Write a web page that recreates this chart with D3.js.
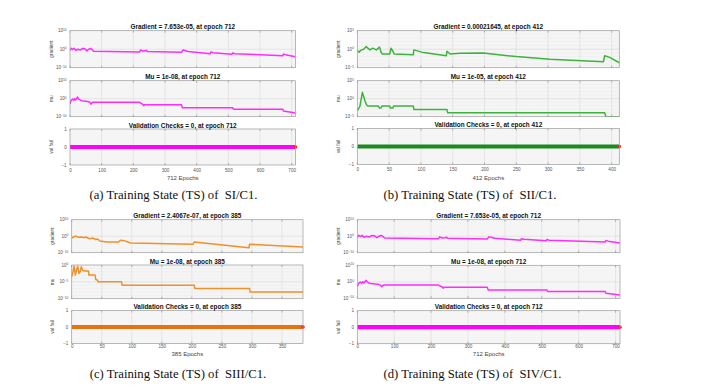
<!DOCTYPE html>
<html>
<head>
<meta charset="utf-8">
<script src="https://cdn.jsdelivr.net/npm/d3@7"></script>
<style>
  body { margin: 0; background: #fff; }
  svg { display: block; font-family: "Liberation Sans", Arial, sans-serif; }
</style>
</head>
<body>
<div id="chart"></div>
<script>
// ---- data ----
// SI/C1 (a) and SIV/C1 (d) show the same training run, 712 epochs
var gradEpA = [0,4,8,13,19,25,32,40,47,53,59,65,69,74,220,223,231,237,242,244,352,357,363,373,443,445,452,512,514,520,672,674,680,712];
var gradA   = [0.2,3.2,0.63,3.2,0.2,1,0.32,2.5,1.6,0.13,1,2.5,1,0.08,0.032,0.4,0.08,0.13,0.25,0.05,0.02,0.4,0.2,0.063,0.0032,0.032,0.0126,0.002,0.01,0.004,3.2e-4,0.0025,0.001,7.653e-5];
var muEpA   = [0,3,8,12,15,18,21,24,27,32,37,55,63,66,71,220,231,233,235,352,355,514,516,672,674,712];
var muA     = [1e-3,0.08,0.63,0.13,1,0.2,1.6,8,0.63,0.2,0.08,0.032,0.01,1e-3,0.01,0.01,5e-4,1.3e-4,5e-4,5e-4,1e-5,1e-5,1.3e-6,1.3e-6,1.3e-7,1e-8];
var valEpA  = [0,712];
var valA    = [0,0];

// SII/C1 (b), 412 epochs
var gradEpB = [0,3,5,7,10,14,16,20,24,30,35,37,39,51,53,56,58,88,89,104,140,141,146,161,198,250,303,387,389,397,412];
var gradB   = [0.43,0.15,0.43,0.65,1,5.5,2.3,0.65,1.9,0.65,3.6,0.22,0.05,0.05,1.9,0.28,0.05,0.032,0.65,0.12,0.017,0.28,0.05,0.08,0.1,0.01,0.002,4e-4,0.017,0.0063,2.1645e-4];
var muEpB   = [0,4,8,12,14,16,33,35,37,39,51,52,56,57,88,89,141,142,389,391,412];
var muB     = [5e-4,6e-3,58,0.28,0.03,0.01,0.01,2.5e-3,2.5e-3,0.01,0.01,2.5e-3,2.5e-3,0.01,0.01,1e-3,1e-3,1.3e-4,1.3e-4,1e-5,1e-5];
var valEpB  = [0,412];
var valB    = [0,0];

// SIII/C1 (c), 385 epochs
var gradEpC = [0,3,7,11,17,20,24,29,36,40,43,47,58,78,81,87,98,202,204,295,296,385];
var gradC   = [0.08,0.32,1.26,0.2,0.32,0.13,0.32,0.032,0.08,0.008,0.02,1.3e-3,3.2e-4,3.2e-4,3.2e-3,2e-3,8e-5,1.3e-5,3.2e-4,1e-7,1.3e-5,2.4067e-7];
var muEpC   = [0,2,4,6,8,10,12,14,16,18,21,28,28.5,39,40,43,44,83,84,204,205,296,297,385];
var muC     = [3.2e-4,0.01,0.5,1e-3,0.032,0.5,3.2e-3,0.01,0.32,0.032,0.016,0.016,1e-3,1e-3,5e-5,3.2e-5,1e-5,1e-5,1e-6,1e-6,1e-7,1e-7,1e-8,1e-8];
var valEpC  = [0,385];
var valC    = [0,0];

var titlesA = ["Gradient = 7.653e-05, at epoch 712", "Mu = 1e-08, at epoch 712", "Validation Checks = 0, at epoch 712"];
var titlesB = ["Gradient = 0.00021645, at epoch 412", "Mu = 1e-05, at epoch 412", "Validation Checks = 0, at epoch 412"];
var titlesC = ["Gradient = 2.4067e-07, at epoch 385", "Mu = 1e-08, at epoch 385", "Validation Checks = 0, at epoch 385"];
var rowLabels = ["gradient", "mu", "val fail"];
var captions = ["(a) Training State (TS) of  SI/C1.", "(b) Training State (TS) of  SII/C1.",
                "(c) Training State (TS) of  SIII/C1.", "(d) Training State (TS) of  SIV/C1."];
var epochLabels = ["712 Epochs", "412 Epochs", "385 Epochs", "712 Epochs"];

// ---- layout ----
var panels = [
  {epochs:712, step:100, x0:70, x1:295.5, rows:[[30.7,67.7],[80.7,116.7],[129,165]], tickDy:7.2, labDy:15,
   cap:[173.5,198.5], color:"#ff2bff", valColor:"#ff00ff",
   grad:[gradEpA,gradA], mu:[muEpA,muA], val:[valEpA,valA], titles:titlesA, xlab:epochLabels[0], caption:captions[0],
   gDom:[1e-10,1e10], mDom:[1e-10,1e10]},
  {epochs:412, step:50, x0:357.3, x1:619.3, rows:[[30.7,67.7],[80.7,116.7],[128.5,164.5]], tickDy:7.2, labDy:15,
   cap:[470,198.5], color:"#3cb43c", valColor:"#1d8a1d",
   grad:[gradEpB,gradB], mu:[muEpB,muB], val:[valEpB,valB], titles:titlesB, xlab:epochLabels[1], caption:captions[1],
   gDom:[1e-5,1e5], mDom:[1e-5,1e5]},
  {epochs:385, step:50, x0:71.7, x1:303, rows:[[219.7,252.7],[265,298.7],[310.5,343.5]], tickDy:5.3, labDy:12.7,
   cap:[178,377.7], color:"#f0902a", valColor:"#e6730f",
   grad:[gradEpC,gradC], mu:[muEpC,muC], val:[valEpC,valC], titles:titlesC, xlab:epochLabels[2], caption:captions[2],
   gDom:[1e-10,1e10], mDom:[1e-10,1]},
  {epochs:712, step:100, x0:357.3, x1:620, rows:[[219.7,252.7],[265.3,298.3],[310.7,343.7]], tickDy:5.3, labDy:12.7,
   cap:[472.5,377.7], color:"#ff2bff", valColor:"#ff00ff",
   grad:[gradEpA,gradA], mu:[muEpA,muA], val:[valEpA,valA], titles:titlesA, xlab:epochLabels[3], caption:captions[3],
   gDom:[1e-10,1e10], mDom:[1e-10,1e10]}
];

var svg = d3.select("#chart").append("svg").attr("width", 712).attr("height", 390);
var clipId = 0;

function drawRow(p, r, kind, series, title, label, last) {
  var top = p.rows[r][0], bottom = p.rows[r][1];
  var x = d3.scaleLinear().domain([0, p.epochs]).range([p.x0, p.x1]);
  var y, yticks, dom;
  if (kind == "val") {
    y = d3.scaleLinear().domain([-1, 1]).range([bottom, top]);
    yticks = [-1, 0, 1];
  } else {
    dom = kind == "grad" ? p.gDom : p.mDom;
    y = d3.scaleLog().domain(dom).range([bottom, top]);
    var lo = Math.log10(dom[0]), hi = Math.log10(dom[1]);
    yticks = [dom[0], Math.pow(10, (lo + hi) / 2), dom[1]];
  }
  var g = svg.append("g");

  g.append("rect").attr("x", p.x0).attr("y", top)
    .attr("width", p.x1 - p.x0).attr("height", bottom - top).attr("fill", "#f5f5f5");

  // minor decade grid on log axes when there is room
  if (kind != "val") {
    var lo2 = Math.log10(dom[0]), hi2 = Math.log10(dom[1]);
    if ((bottom - top) / (hi2 - lo2) > 3) {
      for (var e = lo2 + 1; e < hi2; e++) {
        g.append("line").attr("x1", p.x0).attr("x2", p.x1)
          .attr("y1", y(Math.pow(10, e))).attr("y2", y(Math.pow(10, e)))
          .attr("stroke", "#e2e2e2").attr("stroke-width", 0.5).attr("stroke-dasharray", "1,1");
      }
    }
  }

  var xticks = d3.range(0, p.epochs + 1, p.step);
  // grid
  g.selectAll(".vg").data(xticks.slice(1)).enter().append("line")
    .attr("x1", function(d){ return x(d); }).attr("x2", function(d){ return x(d); })
    .attr("y1", top).attr("y2", bottom).attr("stroke", "#dadada").attr("stroke-width", 0.6);
  g.selectAll(".hg").data(yticks.slice(1, 2)).enter().append("line")
    .attr("x1", p.x0).attr("x2", p.x1)
    .attr("y1", function(d){ return y(d); }).attr("y2", function(d){ return y(d); })
    .attr("stroke", "#dadada").attr("stroke-width", 0.6);

  // tick marks inside, top and bottom
  xticks.forEach(function(d) {
    g.append("line").attr("x1", x(d)).attr("x2", x(d)).attr("y1", bottom).attr("y2", bottom - 2)
      .attr("stroke", "#888").attr("stroke-width", 0.6);
    g.append("line").attr("x1", x(d)).attr("x2", x(d)).attr("y1", top).attr("y2", top + 2)
      .attr("stroke", "#888").attr("stroke-width", 0.6);
  });

  // data
  clipId++;
  g.append("clipPath").attr("id", "clip" + clipId).append("rect")
    .attr("x", p.x0).attr("y", top).attr("width", p.x1 - p.x0).attr("height", bottom - top);
  var pts = series[0].map(function(ep, i){ return [ep, series[1][i]]; });
  var line = d3.line().x(function(d){ return x(d[0]); }).y(function(d){ return y(d[1]); });
  g.append("path").datum(pts).attr("clip-path", "url(#clip" + clipId + ")")
    .attr("fill", "none")
    .attr("stroke", kind == "val" ? p.valColor : p.color)
    .attr("stroke-width", kind == "val" ? 4.2 : 1.5)
    .attr("stroke-linejoin", "round")
    .attr("d", line);
  if (kind == "val") {
    g.append("circle").attr("cx", x(p.epochs)).attr("cy", y(0)).attr("r", 1.8).attr("fill", "#ff2020");
  }

  // box
  g.append("rect").attr("x", p.x0).attr("y", top)
    .attr("width", p.x1 - p.x0).attr("height", bottom - top)
    .attr("fill", "none").attr("stroke", "#9a9a9a").attr("stroke-width", 0.7);

  // y tick labels
  yticks.forEach(function(d) {
    var t = g.append("text").attr("x", p.x0 - 3.3).attr("y", y(d) + 1.6)
      .attr("text-anchor", "end").attr("fill", "#555").attr("font-size", 4.6);
    if (kind == "val") {
      t.text(d == -1 ? "\u22121" : d);
    } else {
      var ex = Math.round(Math.log10(d));
      t.append("tspan").text("10");
      t.append("tspan").attr("dy", -1.8).attr("font-size", 3.3).text(ex < 0 ? "\u2212" + (-ex) : ex);
    }
  });

  // y label
  g.append("text").attr("transform", "translate(" + (p.x0 - 17.5) + "," + ((top + bottom) / 2) + ") rotate(-90)")
    .attr("text-anchor", "middle").attr("fill", "#444").attr("font-size", 4.8).text(label);

  // title
  svg.append("text").attr("x", (p.x0 + p.x1) / 2).attr("y", top - 1.3)
    .attr("text-anchor", "middle").attr("font-weight", "bold").attr("font-size", 6.4)
    .attr("fill", "#111").text(title);

  if (last) {
    var ax = svg.append("g").attr("transform", "translate(0," + (bottom + p.tickDy - 4) + ")")
      .call(d3.axisBottom(x).tickValues(xticks).tickSize(0).tickPadding(0).tickFormat(d3.format("d")));
    ax.select(".domain").remove();
    ax.selectAll("text").attr("font-size", 4.6).attr("fill", "#555")
      .attr("font-family", "Liberation Sans, Arial, sans-serif").attr("dy", "0.72em");
    svg.append("text").attr("x", (p.x0 + p.x1) / 2).attr("y", bottom + p.labDy)
      .attr("text-anchor", "middle").attr("font-size", 6).attr("fill", "#444").text(p.xlab);
  }
}

panels.forEach(function(p) {
  drawRow(p, 0, "grad", p.grad, p.titles[0], rowLabels[0], false);
  drawRow(p, 1, "mu", p.mu, p.titles[1], rowLabels[1], false);
  drawRow(p, 2, "val", p.val, p.titles[2], rowLabels[2], true);
  svg.append("text").attr("x", p.cap[0]).attr("y", p.cap[1])
    .attr("text-anchor", "middle").attr("font-family", "Liberation Serif, Times New Roman, serif")
    .attr("font-size", 12.7).attr("fill", "#111").style("white-space", "pre").text(p.caption);
});
</script>
</body>
</html>
